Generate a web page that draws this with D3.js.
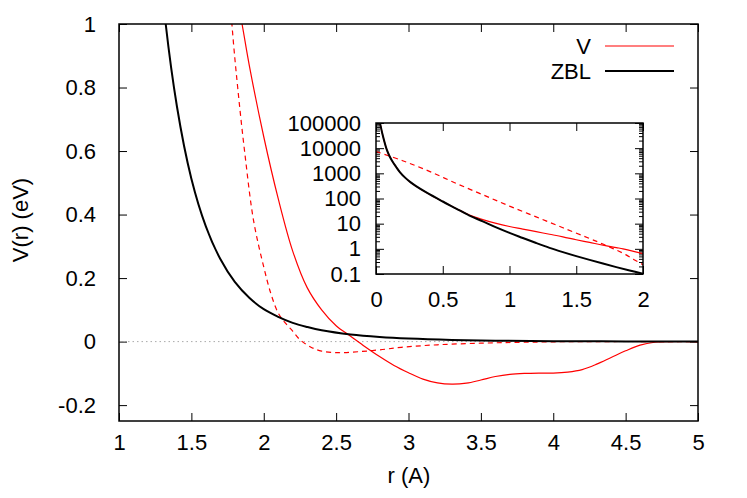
<!DOCTYPE html>
<html>
<head>
<meta charset="utf-8">
<script src="https://cdn.jsdelivr.net/npm/d3@7.9.0/dist/d3.min.js"></script>
<style>
  body { margin: 0; background: #fff; }
  svg { font-family: "Liberation Sans", Arial, sans-serif; }
  .axis text { font-size: 22px; fill: #000; font-family: "Liberation Sans", Arial, sans-serif; }
  .axis line { stroke: #000; stroke-width: 1; }
</style>
</head>
<body>
<svg id="chart" width="747" height="498"></svg>
<script>
// ZBL potential (eV)
const rZBL = [0.02, 0.03, 0.05, 0.08, 0.1, 0.12, 0.15, 0.18, 0.22, 0.26, 0.3, 0.38, 0.5, 0.6, 0.7, 0.8, 0.9, 1.0, 1.1, 1.2, 1.3, 1.4, 1.5, 1.6, 1.7, 1.8, 1.9, 2.0, 2.1, 2.2, 2.3, 2.4, 2.6, 2.8, 3.0, 3.3, 3.6, 4.0, 4.5, 5.0];
const vZBL = [178000, 100000, 33000, 8900, 5000, 3160, 1820, 1100, 660, 436, 309, 170, 76, 40, 21, 12.3, 7.1, 4.3, 2.7, 1.7, 1.096, 0.741, 0.513, 0.363, 0.26, 0.188, 0.138, 0.102, 0.078, 0.059, 0.046, 0.0355, 0.0224, 0.0145, 0.0095, 0.0052, 0.003, 0.0014, 0.0006, 0.00025];

// V (solid red)
const rV = [0.02, 0.03, 0.05, 0.08, 0.1, 0.12, 0.15, 0.18, 0.22, 0.26, 0.3, 0.38, 0.5, 0.6, 0.7, 0.8, 0.9, 1.0, 1.1, 1.2, 1.3, 1.4, 1.5, 1.6, 1.7, 1.8, 1.85, 1.9, 2.0, 2.1, 2.2, 2.3, 2.4, 2.5, 2.6, 2.7, 2.8, 2.9, 3.0, 3.1, 3.2, 3.3, 3.4, 3.5, 3.6, 3.7, 3.8, 3.9, 4.0, 4.1, 4.2, 4.3, 4.4, 4.5, 4.6, 4.7, 4.8, 5.0];
const vV = [178000, 100000, 33000, 8900, 5000, 3160, 1820, 1100, 660, 436, 309, 170, 76, 40, 22, 14.5, 10.2, 7.7, 6.1, 4.8, 3.8, 3.0, 2.3, 1.8, 1.4, 1.12, 1.0, 0.87, 0.645, 0.45, 0.285, 0.17, 0.1, 0.05, 0.017, -0.016, -0.047, -0.075, -0.098, -0.118, -0.13, -0.134, -0.131, -0.121, -0.11, -0.103, -0.1, -0.099, -0.099, -0.096, -0.088, -0.071, -0.05, -0.029, -0.011, -0.002, 0, 0];

// dashed red, no legend entry
const rVd = [0.0, 0.2, 0.4, 0.6, 0.8, 1.0, 1.2, 1.4, 1.6, 1.7, 1.78, 1.82, 1.87, 1.93, 2.0, 2.05, 2.1, 2.15, 2.2, 2.25, 2.32, 2.4, 2.52, 2.65, 2.8, 2.95, 3.2, 3.5, 3.8, 4.2, 5.0];
const vVd = [7400, 3160, 1200, 400, 141, 50, 18.6, 6.9, 2.57, 1.55, 1.0, 0.8, 0.59, 0.38, 0.235, 0.15, 0.09, 0.058, 0.033, 0.006, -0.016, -0.03, -0.035, -0.032, -0.026, -0.018, -0.01, -0.005, -0.002, 0, 0];

const xTicks = [1, 1.5, 2, 2.5, 3, 3.5, 4, 4.5, 5];
const yTicks = [-0.2, 0, 0.2, 0.4, 0.6, 0.8, 1];
const insetXTicks = [0, 0.5, 1, 1.5, 2];
const insetYTicks = [0.1, 1, 10, 100, 1000, 10000, 100000];

const svg = d3.select('#chart');
const zip = (rs, vs) => rs.map((r, i) => ({ r: r, v: vs[i] }));
const plain = d => String(d); // gnuplot style "-0.2" with a hyphen

// ---- main plot ----
const x = d3.scaleLinear().domain([1, 5]).range([119, 698]);
const y = d3.scaleLinear().domain([-0.25, 1]).range([421, 24]);

svg.append('clipPath').attr('id', 'clipMain')
  .append('rect').attr('x', 119).attr('y', 24).attr('width', 579).attr('height', 397);

function inwardAxis(g, axis) {
  g.call(axis);
  g.select('.domain').remove();
}

svg.append('g').attr('class', 'axis').attr('transform', 'translate(0,421)')
  .call(inwardAxis, d3.axisBottom(x).tickValues(xTicks).tickSize(-8).tickPadding(13).tickFormat(plain));
svg.append('g').attr('class', 'axis').attr('transform', 'translate(0,24)')
  .call(inwardAxis, d3.axisTop(x).tickValues(xTicks).tickSize(-8).tickFormat(''));
svg.append('g').attr('class', 'axis').attr('transform', 'translate(119,0)')
  .call(inwardAxis, d3.axisLeft(y).tickValues(yTicks).tickSize(-8).tickPadding(23).tickFormat(plain));
svg.append('g').attr('class', 'axis').attr('transform', 'translate(698,0)')
  .call(inwardAxis, d3.axisRight(y).tickValues(yTicks).tickSize(-8).tickFormat(''));

// zero axis
svg.append('line')
  .attr('x1', x(1)).attr('x2', x(5)).attr('y1', y(0)).attr('y2', y(0))
  .attr('stroke', '#aaa').attr('stroke-width', 1).attr('stroke-dasharray', '1.5,3');

const mainLine = d3.line().x(d => x(d.r)).y(d => y(d.v)).curve(d3.curveCatmullRom.alpha(0.5));
const mainPlot = svg.append('g').attr('clip-path', 'url(#clipMain)');

mainPlot.append('path')
  .attr('d', mainLine(zip(rVd, vVd).filter(d => d.r >= 1)))
  .attr('fill', 'none').attr('stroke', '#ff0000').attr('stroke-width', 1.2).attr('stroke-dasharray', '5,4');
mainPlot.append('path')
  .attr('d', mainLine(zip(rV, vV).filter(d => d.r >= 1)))
  .attr('fill', 'none').attr('stroke', '#ff0000').attr('stroke-width', 1.2);
mainPlot.append('path')
  .attr('d', mainLine(zip(rZBL, vZBL).filter(d => d.r >= 1)))
  .attr('fill', 'none').attr('stroke', '#000').attr('stroke-width', 2);

svg.append('rect')
  .attr('x', 119).attr('y', 24).attr('width', 579).attr('height', 397)
  .attr('fill', 'none').attr('stroke', '#000').attr('stroke-width', 1.5);

// axis titles
svg.append('text').attr('x', 409).attr('y', 483).attr('text-anchor', 'middle')
  .attr('font-size', 22).text('r (A)');
svg.append('text').attr('transform', 'translate(28,220) rotate(-90)').attr('text-anchor', 'middle')
  .attr('font-size', 22).text('V(r) (eV)');

// legend
const legend = [
  { label: 'V', color: '#ff0000', width: 1.2, yPos: 46 },
  { label: 'ZBL', color: '#000', width: 2, yPos: 71 }
];
legend.forEach(d => {
  svg.append('text').attr('x', 591).attr('y', d.yPos).attr('dy', '0.35em')
    .attr('text-anchor', 'end').attr('font-size', 22).text(d.label);
  svg.append('line').attr('x1', 605).attr('x2', 674).attr('y1', d.yPos).attr('y2', d.yPos)
    .attr('stroke', d.color).attr('stroke-width', d.width);
});

// ---- inset, log scale ----
const ix = d3.scaleLinear().domain([0, 2]).range([376, 643]);
const iy = d3.scaleLog().domain([0.1, 100000]).range([274, 123]);

svg.append('rect')
  .attr('x', 376).attr('y', 123).attr('width', 267).attr('height', 151)
  .attr('fill', '#fff');

svg.append('clipPath').attr('id', 'clipInset')
  .append('rect').attr('x', 376).attr('y', 123).attr('width', 267).attr('height', 151);

// minor decade ticks
let minor = [];
insetYTicks.slice(0, -1).forEach(t => {
  for (let k = 2; k <= 9; k++) minor.push(t * k);
});

svg.append('g').attr('class', 'axis').attr('transform', 'translate(0,274)')
  .call(inwardAxis, d3.axisBottom(ix).tickValues(insetXTicks).tickSize(-8).tickPadding(17).tickFormat(plain));
svg.append('g').attr('class', 'axis').attr('transform', 'translate(0,123)')
  .call(inwardAxis, d3.axisTop(ix).tickValues(insetXTicks).tickSize(-8).tickFormat(''));
svg.append('g').attr('class', 'axis').attr('transform', 'translate(376,0)')
  .call(inwardAxis, d3.axisLeft(iy).tickValues(insetYTicks).tickSize(-8).tickPadding(15).tickFormat(plain));
svg.append('g').attr('class', 'axis').attr('transform', 'translate(643,0)')
  .call(inwardAxis, d3.axisRight(iy).tickValues(insetYTicks).tickSize(-8).tickFormat(''));
svg.append('g').attr('class', 'axis').attr('transform', 'translate(376,0)')
  .call(inwardAxis, d3.axisLeft(iy).tickValues(minor).tickSize(-4).tickFormat(''));
svg.append('g').attr('class', 'axis').attr('transform', 'translate(643,0)')
  .call(inwardAxis, d3.axisRight(iy).tickValues(minor).tickSize(-4).tickFormat(''));

const insetLine = d3.line().x(d => ix(d.r)).y(d => iy(d.v)).curve(d3.curveCatmullRom.alpha(0.5));
const insetPlot = svg.append('g').attr('clip-path', 'url(#clipInset)');
const inRange = d => d.r <= 2 && d.v > 0;

insetPlot.append('path')
  .attr('d', insetLine(zip(rVd, vVd).filter(inRange)))
  .attr('fill', 'none').attr('stroke', '#ff0000').attr('stroke-width', 1.2).attr('stroke-dasharray', '5,4');
insetPlot.append('path')
  .attr('d', insetLine(zip(rV, vV).filter(inRange)))
  .attr('fill', 'none').attr('stroke', '#ff0000').attr('stroke-width', 1.2);
insetPlot.append('path')
  .attr('d', insetLine(zip(rZBL, vZBL).filter(inRange)))
  .attr('fill', 'none').attr('stroke', '#000').attr('stroke-width', 2);

svg.append('rect')
  .attr('x', 376).attr('y', 123).attr('width', 267).attr('height', 151)
  .attr('fill', 'none').attr('stroke', '#000').attr('stroke-width', 1.5);
</script>
</body>
</html>
